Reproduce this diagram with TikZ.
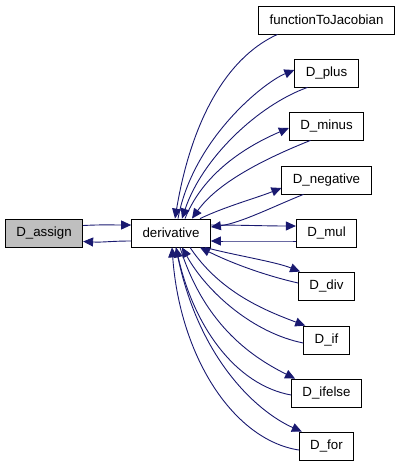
\documentclass[tikz,border=0pt]{standalone}
\usepackage{fontspec}
\setmainfont{Liberation Sans}
\usetikzlibrary{arrows.meta}
\definecolor{edgeblue}{HTML}{191970}
\definecolor{boxgray}{HTML}{BFBFBF}

\begin{document}
\begin{tikzpicture}[x=1pt,y=-1pt]
  \tikzstyle{fn}=[draw,fill=white,line width=0.8pt,minimum height=28pt,inner xsep=11pt,font=\fontsize{13.3}{16}\selectfont]
  \tikzstyle{hl}=[fn,fill=boxgray]
  \tikzstyle{call}=[draw=edgeblue,line width=0.9pt,-{Triangle[length=10pt,width=9pt,fill=edgeblue]}]
  \useasboundingbox (0,0) rectangle (400,467);
  \node[hl] (assign) at (44,233.5) {D\_assign};
  \node[fn] (deriv) at (171,233) {derivative};
  \node[fn] (ftj) at (326.5,20) {functionToJacobian};
  \node[fn] (plus) at (326.5,73) {D\_plus};
  \node[fn] (minus) at (326.5,126) {D\_minus};
  \node[fn] (neg) at (326.5,180) {D\_negative};
  \node[fn] (mul) at (326.5,233) {D\_mul};
  \node[fn] (div) at (326.5,286) {D\_div};
  \node[fn] (dif) at (326.5,340) {D\_if};
  \node[fn] (difelse) at (326.5,393) {D\_ifelse};
  \node[fn] (dfor) at (326.5,446) {D\_for};
  % D_assign <-> derivative
  \draw[call] ([yshift=8pt]assign.east) .. controls +(20,-1) and +(-20,0) .. ([yshift=8pt]deriv.west);
  \draw[call] ([yshift=-8pt]deriv.west) .. controls +(-20,0) and +(20,1) .. ([yshift=-8pt]assign.east);
  % upper callees
  \draw[call] ([xshift=-49pt]ftj.south) .. controls +(-55,25) and +(15,-90) .. ([xshift=4pt]deriv.north);
  \draw[call] ([xshift=7pt]deriv.north) .. controls +(15,-80) and +(-30,12) .. ([yshift=3pt]plus.west);
  \draw[call] ([xshift=-19pt]plus.south) .. controls +(-50,18) and +(20,-60) .. ([xshift=11pt]deriv.north);
  \draw[call] ([xshift=14pt]deriv.north) .. controls +(20,-50) and +(-35,15) .. ([yshift=-2pt]minus.west);
  \draw[call] ([xshift=-16pt]minus.south) .. controls +(-50,20) and +(25,-35) .. ([xshift=21pt]deriv.north);
  \draw[call] ([xshift=29pt]deriv.north) .. controls +(25,-12) and +(-25,10) .. ([yshift=-8pt]neg.west);
  \draw[call] ([xshift=-23pt]neg.south) .. controls +(-30,12) and +(30,-4) .. ([yshift=6pt]deriv.east);
  % middle
  \draw[call] ([yshift=8pt]deriv.east) .. controls +(30,0) and +(-30,0) .. ([yshift=7pt]mul.west);
  \draw[call] ([yshift=-8pt]mul.west) .. controls +(-30,0) and +(30,0) .. ([yshift=-8pt]deriv.east);
  % lower callees
  \draw[call] ([xshift=34pt]deriv.south) .. controls +(30,8) and +(-25,-10) .. ([xshift=2pt]div.north west);
  \draw[call] ([yshift=3pt]div.west) .. controls +(-35,-8) and +(30,15) .. ([xshift=29pt]deriv.south);
  \draw[call] ([xshift=19pt]deriv.south) .. controls +(30,45) and +(-40,-15) .. ([xshift=2pt]dif.north west);
  \draw[call] ([yshift=-3pt]dif.west) .. controls +(-50,-10) and +(25,45) .. ([xshift=11pt]deriv.south);
  \draw[call] ([xshift=9pt]deriv.south) .. controls +(25,80) and +(-40,-20) .. ([xshift=4pt]difelse.north west);
  \draw[call] ([yshift=-2pt]difelse.west) .. controls +(-55,-10) and +(18,80) .. ([xshift=5pt]deriv.south);
  \draw[call] ([xshift=5pt]deriv.south) .. controls +(20,110) and +(-45,-20) .. ([xshift=3pt]dfor.north west);
  \draw[call] ([yshift=-4pt]dfor.west) .. controls +(-65,-10) and +(8,110) .. ([xshift=1pt]deriv.south);
\end{tikzpicture}
\end{document}
